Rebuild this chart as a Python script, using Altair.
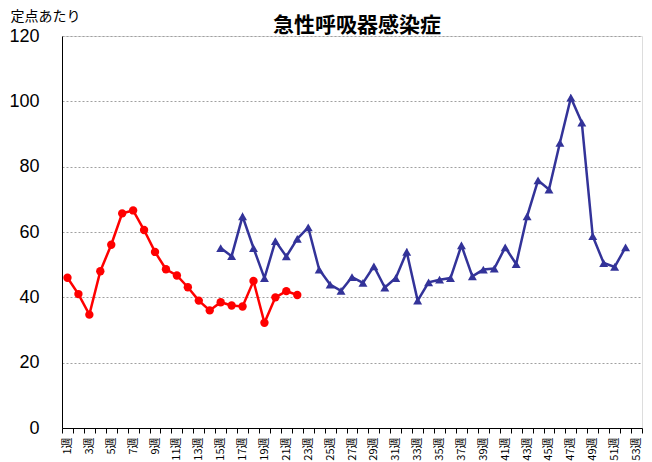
import altair as alt
import pandas as pd

weeks = [f"{i}週" for i in range(1, 54)]

cur_weeks = list(range(1, 23))
cur_vals = [46.0, 41.0, 34.7, 48.0, 56.1, 65.7, 66.6, 60.6, 53.9, 48.6, 46.7,
            43.1, 39.0, 36.0, 38.5, 37.5, 37.2, 45.0, 32.2, 40.0, 41.9, 40.7]

prev_weeks = list(range(15, 53))
prev_vals = [55.1, 52.6, 64.8, 55.1, 45.9, 57.2, 52.5, 57.9, 61.4, 48.5,
             43.9, 42.0, 46.2, 44.4, 49.5, 43.0, 45.9, 53.9, 39.0, 44.6,
             45.4, 45.9, 55.9, 46.4, 48.5, 48.8, 55.3, 50.2, 64.8, 75.8,
             73.0, 87.3, 101.1, 93.5, 58.7, 50.5, 49.3, 55.3]

y_ticks = [0, 20, 40, 60, 80, 100, 120]

cur_df = pd.DataFrame({"week": [f"{w}週" for w in cur_weeks], "value": cur_vals})
prev_df = pd.DataFrame({"week": [f"{w}週" for w in prev_weeks], "value": prev_vals})

x_enc = alt.X(
    "week:O",
    bandPosition=0.5,
    scale=alt.Scale(type="band", domain=weeks, paddingInner=0, paddingOuter=0),
    axis=alt.Axis(
        title=None,
        labelAngle=270,
        labelExpr="parseInt(datum.value) % 2 == 1 ? datum.label : ''",
        labelOverlap=False,
        labelFont="Noto Sans CJK JP",
        labelFontSize=11,
        labelColor="#000000",
        labelPadding=4,
        tickBand="extent",
        tickSize=5,
        tickColor="#000000",
        domainColor="#000000",
        grid=False,
    ),
)

y_enc = alt.Y(
    "value:Q",
    scale=alt.Scale(domain=[0, 120], nice=False, zero=True),
    axis=alt.Axis(
        values=y_ticks,
        title="定点あたり",
        titleAngle=0,
        titleX=-52,
        titleY=-16,
        titleAlign="left",
        titleBaseline="alphabetic",
        titleFont="Noto Sans CJK JP",
        titleFontSize=14,
        titleFontWeight="normal",
        titleColor="#000000",
        labelFont="Liberation Sans",
        labelFontSize=18,
        labelColor="#000000",
        labelPadding=23,
        ticks=False,
        domainColor="#000000",
        grid=True,
        gridColor="#a0a0a0",
        gridDash=[2, 2],
        gridWidth=1,
    ),
)

cur_line = alt.Chart(cur_df).mark_line(color="#FF0000", strokeWidth=2.5).encode(x=x_enc, y=y_enc)
cur_pts = alt.Chart(cur_df).mark_point(
    shape="circle", filled=True, color="#FF0000", size=70, opacity=1
).encode(x=x_enc, y=y_enc)

prev_line = alt.Chart(prev_df).mark_line(color="#333399", strokeWidth=2.5).encode(x=x_enc, y=y_enc)
prev_pts = alt.Chart(prev_df).mark_point(
    shape="triangle-up", filled=True, color="#333399", size=80, opacity=1
).encode(x=x_enc, y=y_enc)

chart = (
    alt.layer(prev_line, prev_pts, cur_line, cur_pts)
    .properties(
        width=580,
        height=392,
        autosize=alt.AutoSizeParams(type="none"),
        padding={"left": 54, "top": 28, "right": 2, "bottom": 34},
        title=alt.TitleParams(
            "急性呼吸器感染症",
            font="Noto Sans CJK JP",
            fontSize=21,
            fontWeight="bold",
            color="#000000",
            anchor="middle",
            offset=12,
            dy=39,
            dx=5,
        ),
    )
    .configure_view(stroke="#808080", strokeWidth=1)
    .configure(background="#ffffff")
)

chart.save("out.html", embed_options={"renderer": "svg", "actions": False})
